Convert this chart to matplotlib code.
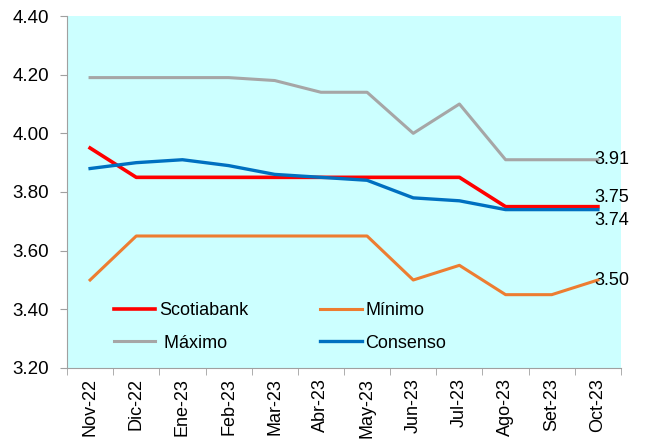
import matplotlib
matplotlib.use("Agg")
import matplotlib.pyplot as plt
import numpy as np

plt.rcParams['font.family'] = ['Liberation Sans', 'DejaVu Sans']
plt.rcParams['font.size'] = 13

# Data
months = ['Nov-22', 'Dic-22', 'Ene-23', 'Feb-23', 'Mar-23', 'Abr-23',
          'May-23', 'Jun-23', 'Jul-23', 'Ago-23', 'Set-23', 'Oct-23']
scotiabank = [3.95, 3.85, 3.85, 3.85, 3.85, 3.85, 3.85, 3.85, 3.85, 3.75, 3.75, 3.75]
maximo = [4.19, 4.19, 4.19, 4.19, 4.18, 4.14, 4.14, 4.00, 4.10, 3.91, 3.91, 3.91]
minimo = [3.50, 3.65, 3.65, 3.65, 3.65, 3.65, 3.65, 3.50, 3.55, 3.45, 3.45, 3.50]
consenso = [3.88, 3.90, 3.91, 3.89, 3.86, 3.85, 3.84, 3.78, 3.77, 3.74, 3.74, 3.74]

x = np.arange(len(months))

fig = plt.figure(figsize=(6.45, 4.42), dpi=100)
ax = fig.add_axes([67 / 645, 1 - 368 / 442, (621 - 67) / 645, (368 - 16) / 442])
ax.set_facecolor('#CCFFFF')

l_sc, = ax.plot(x, scotiabank, color='#FF0000', lw=2.6, label='Scotiabank')
l_max, = ax.plot(x, maximo, color='#A6A6A6', lw=2.2, label=' Máximo')
l_min, = ax.plot(x, minimo, color='#ED7D31', lw=2.2, label='Mínimo')
l_con, = ax.plot(x, consenso, color='#0070C0', lw=2.4, label='Consenso')

# end labels
last = len(months) - 1
ax.text(last - 0.07, maximo[-1], f'{maximo[-1]:.2f}', ha='left', va='center')
ax.text(last - 0.07, scotiabank[-1] + 0.03, f'{scotiabank[-1]:.2f}', ha='left', va='center')
ax.text(last - 0.07, consenso[-1] - 0.037, f'{consenso[-1]:.2f}', ha='left', va='center')
ax.text(last - 0.07, minimo[-1], f'{minimo[-1]:.2f}', ha='left', va='center')

ax.set_xlim(-0.5, last + 0.5)
ax.set_ylim(3.2, 4.4)
yt = np.arange(3.2, 4.41, 0.2)
ax.set_yticks(yt)
ax.set_yticklabels([f'{v:.2f}' for v in yt], fontsize=13.5)
ax.set_xticks(x)
ax.set_xticklabels(months, rotation=90)
ax.set_xticks(np.arange(-0.5, last + 1, 1), minor=True)
ax.tick_params(axis='x', which='major', length=0, pad=7)
ax.tick_params(axis='x', which='minor', length=5, color='#A0A0A0')
ax.tick_params(axis='y', length=5, color='#A0A0A0', pad=8)

for s in ['top', 'right']:
    ax.spines[s].set_visible(False)
for s in ['left', 'bottom']:
    ax.spines[s].set_color('#A0A0A0')

ax.legend(handles=[l_sc, l_max, l_min, l_con], ncol=2, frameon=False,
          loc='lower left', bbox_to_anchor=(0.055, 0.0), handlelength=2.3,
          handletextpad=0.2, columnspacing=4.0, labelspacing=0.85)

fig.savefig('out.png', dpi=100)
